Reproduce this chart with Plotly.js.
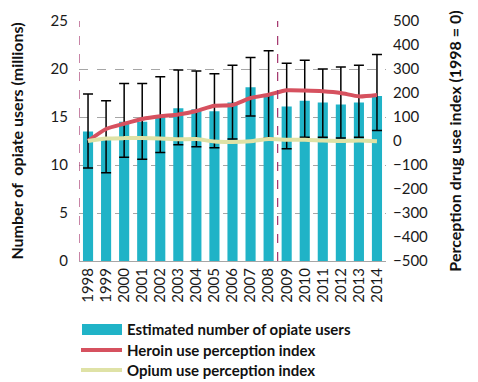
<!DOCTYPE html>
<html><head><meta charset="utf-8">
<script src="https://cdn.plot.ly/plotly-3.0.1.min.js"></script>
<style>html,body{margin:0;padding:0;background:#fff}#chart{width:478px;height:382px}</style>
</head><body><div id="chart"></div>
<script>
const years = ['1998','1999','2000','2001','2002','2003','2004','2005','2006','2007','2008','2009','2010','2011','2012','2013','2014'];
const opiateUsers = [13.5,12.9,14.5,14.5,15.0,15.9,15.8,15.6,16.5,18.1,17.3,16.1,16.7,16.5,16.3,16.5,17.2];
const errUpper = [17.4,16.7,18.5,18.5,19.2,19.9,19.8,19.5,20.4,21.2,21.9,20.6,20.9,20.0,20.2,20.4,21.5];
const errLower = [9.7,9.2,10.8,10.6,11.3,12.1,11.9,11.8,12.7,15.1,12.8,11.7,12.9,12.9,12.8,12.9,13.6];
const heroinIndex = [0,50,72,92,103,110,125,147,150,179,193,211,210,207,200,186,192];
const opiumIndex = [0,10,12,12,10,7,8,-2,-4,-1,8,5,5,2,0,2,-1];
const leftTicks = [0,5,10,15,20,25];
const rightTicks = [-500,-400,-300,-200,-100,0,100,200,300,400,500];

const FONT = 'Lato, "Open Sans", sans-serif';
const plus = opiateUsers.map((v,i)=>errUpper[i]-v);
const minus = opiateUsers.map((v,i)=>v-errLower[i]);

const traces = [
  {type:'bar', x:years, y:opiateUsers, marker:{color:'#20b3c7'}, yaxis:'y',
   error_y:{type:'data', symmetric:false, array:plus, arrayminus:minus, color:'#000', thickness:1.5, width:5},
   showlegend:false, hoverinfo:'skip'},
  {type:'scatter', mode:'lines', x:years, y:heroinIndex, yaxis:'y2',
   line:{color:'#d6515f', width:4, shape:'spline', smoothing:0.6}, showlegend:false},
  {type:'scatter', mode:'lines', x:years, y:opiumIndex, yaxis:'y2',
   line:{color:'#dfe2a6', width:4, shape:'spline', smoothing:0.6}, showlegend:false}
];

const legendItems = [
  {text:'Estimated number of opiate users', y:329},
  {text:'Heroin use perception index', y:350},
  {text:'Opium use perception index', y:370}
];
const H = 382, W = 478;
const mt = 21, mb = 121, ml = 79, mr = 92;
const ph = H - mt - mb, pw = W - ml - mr;
const toPy = y => (H - mb - y)/ph;
const toPx = x => (x - ml)/pw;

const shapes = [
  {type:'line', xref:'x', yref:'y', x0:-0.5, x1:-0.5, y0:0, y1:25, line:{color:'#a3336b', width:1.2, dash:'dash'}},
  {type:'line', xref:'x', yref:'y', x0:10.5, x1:10.5, y0:0, y1:25, line:{color:'#a3336b', width:1.2, dash:'dash'}},
  {type:'rect', xref:'paper', yref:'paper', x0:toPx(82), x1:toPx(122), y0:toPy(324), y1:toPy(335), fillcolor:'#20b3c7', line:{width:0}},
  {type:'line', xref:'paper', yref:'paper', x0:toPx(81), x1:toPx(122), y0:toPy(350), y1:toPy(350), line:{color:'#d6515f', width:4}},
  {type:'line', xref:'paper', yref:'paper', x0:toPx(81), x1:toPx(122), y0:toPy(370), y1:toPy(370), line:{color:'#dfe2a6', width:4}}
];
const annotations = legendItems.map(it => ({
  xref:'paper', yref:'paper', x:toPx(125), y:toPy(it.y), xanchor:'left', yanchor:'middle',
  text:it.text, showarrow:false, font:{family:FONT, size:15, color:'#111', weight:'bold'}
}));

const layout = {
  width:W, height:H, margin:{l:ml, r:mr, t:mt, b:mb},
  paper_bgcolor:'#fff', plot_bgcolor:'#fff',
  font:{family:FONT, color:'#1a1a1a'},
  bargap:0.44,
  xaxis:{type:'category', range:[-0.5,16.5], tickangle:-90, tickfont:{size:15, family:FONT, color:'#1a1a1a'},
    showline:true, linecolor:'#a6a6a6', linewidth:1, ticks:'', showgrid:false, fixedrange:true},
  yaxis:{range:[0,25], tickvals:leftTicks, tickfont:{size:15, family:FONT, color:'#1a1a1a'},
    showgrid:true, gridcolor:'#a6a6a6', griddash:'dash', gridwidth:1, zeroline:false, showline:false,
    ticks:'', ticklabelstandoff:10,
    title:{text:'Number of  opiate users (millions)', font:{size:16, family:FONT, color:'#111', weight:'bold'}, standoff:22}},
  yaxis2:{overlaying:'y', side:'right', range:[-500,500], tickvals:rightTicks, tickfont:{size:15, family:FONT, color:'#1a1a1a'},
    showgrid:false, zeroline:false, showline:false, ticks:'', ticklabelstandoff:6,
    title:{text:'Perception drug use index (1998 = 0)', font:{size:16, family:FONT, color:'#111', weight:'bold'}, standoff:22}},
  shapes:shapes, annotations:annotations, showlegend:false
};
Plotly.newPlot('chart', traces, layout, {staticPlot:true});
</script></body></html>
